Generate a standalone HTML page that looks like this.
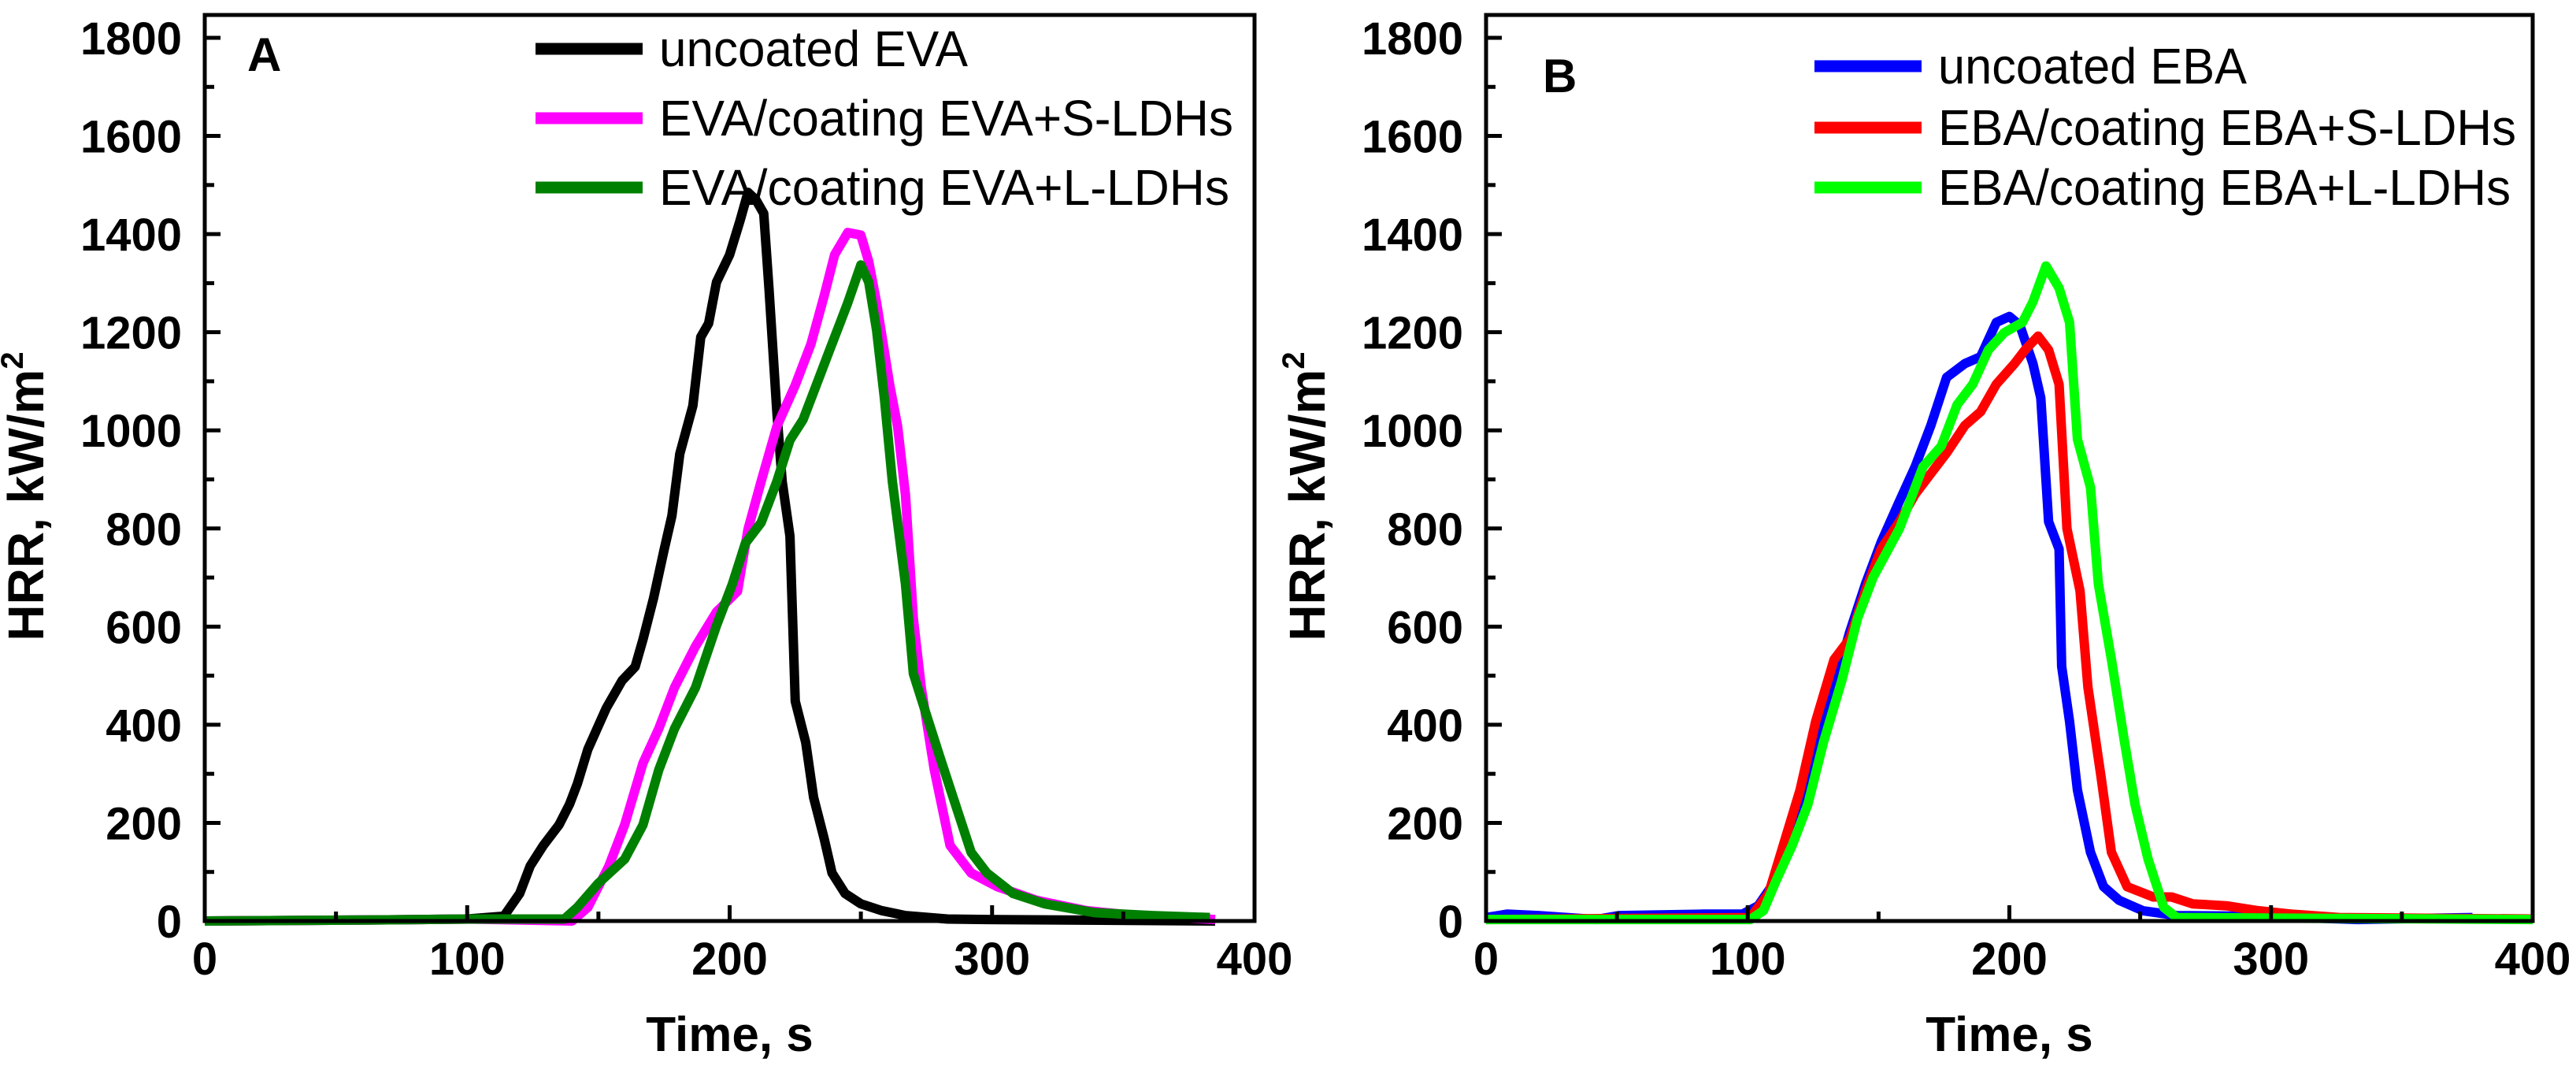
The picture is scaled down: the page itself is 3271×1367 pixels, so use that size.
<!DOCTYPE html>
<html><head><meta charset="utf-8"><style>
html,body{margin:0;padding:0;background:#fff;}
svg{display:block;font-family:"Liberation Sans",Arial,sans-serif;}
</style></head><body>
<svg id="chart" width="3271" height="1367" viewBox="0 0 3271 1367" xmlns="http://www.w3.org/2000/svg"></svg>
<script>
// ---- data ----
const xTicks = [0,100,200,300,400];
const yTicks = [0,200,400,600,800,1000,1200,1400,1600,1800];
const evaT  = [0,60,100,114,120,124,129,135,139,142,146,153,159,164,167,171,175,178,181,186,189,192,195,200,204,207,210,213,215,218,220,223,225,229,232,236,239,244,250,258,267,283,298,385];
const evaV  = [0,2,4,10,56,112,154,196,238,280,350,434,490,518,574,658,756,826,952,1050,1190,1218,1302,1358,1428,1485,1470,1442,1288,1036,896,784,448,364,252,168,98,56,35,21,11,4,3,0];
const evaST = [0,60,100,140,146,154,160,167,173,179,187,195,203,207,212,218,225,231,236,240,245,250,253,256,261,264,267,270,273,278,284,292,302,317,336,355,385];
const evaSV = [0,2,4,0,28,112,196,322,392,476,560,630,672,798,896,1008,1092,1176,1274,1358,1403,1398,1344,1260,1092,1008,868,616,476,308,154,98,70,42,21,11,3];
const evaLT = [0,60,100,137,142,150,160,167,173,179,187,195,201,206,212,218,223,228,233,238,242,245,250,253,256,259,262,267,270,275,280,286,292,298,308,320,339,361,383];
const evaLV = [0,2,4,4,28,77,126,196,308,392,476,602,686,770,812,896,980,1022,1092,1162,1218,1260,1337,1302,1204,1064,896,686,504,420,336,238,140,98,56,35,17,11,7];
const ebaT  = [0,8,20,42,51,83,98,104,109,114,120,126,133,139,145,151,158,164,170,176,183,189,195,200,204,209,212,215,219,220,223,226,231,236,242,251,264,286,298,311,333,377];
const ebaV  = [7,14,11,3,11,14,14,31,70,126,210,337,477,589,687,772,856,926,1010,1108,1136,1150,1220,1232,1214,1136,1066,814,758,519,407,267,140,70,42,21,11,10,17,7,3,7];
const ebaST = [0,101,108,112,120,126,133,139,145,151,158,164,170,176,183,189,195,202,206,211,215,219,222,227,230,235,239,245,255,262,270,283,295,308,326,400];
const ebaSV = [3,7,56,126,267,407,533,575,673,758,814,870,912,954,1010,1038,1094,1136,1164,1192,1164,1094,800,673,477,295,140,70,49,49,35,31,21,14,7,4];
const ebaLT = [0,101,106,111,117,123,129,136,142,148,158,167,174,180,186,192,198,205,209,214,219,223,226,231,234,239,244,248,253,259,264,400];
const ebaLV = [3,3,21,84,154,238,365,491,617,701,800,926,968,1052,1094,1164,1199,1220,1262,1335,1290,1220,982,884,687,533,365,238,126,28,7,3];

const NS = "http://www.w3.org/2000/svg";
const svg = document.getElementById('chart');
function mk(tag, attrs, parent){
  const e = document.createElementNS(NS, tag);
  for (const k in attrs) e.setAttribute(k, attrs[k]);
  (parent||svg).appendChild(e);
  return e;
}
const Y0 = 1169, Y1 = 48, YTOP = 19;
function yScale(v){ return Y0 - (v/1800)*(Y0-Y1); }

function panel(id, left, right, label, labelPos, legendX, legendRows, series){
  const g = mk('g', {});
  
  
  const xs = t => left + (t/400)*(right-left);
  series.forEach(s => {
    const d = s.t.map((t,i) => (i?'L':'M') + xs(t).toFixed(1) + ',' + yScale(s.v[i]).toFixed(1)).join(' ');
    const p = mk('path', {d:d, fill:'none', stroke:s.color, 'stroke-width':12, 'stroke-linejoin':'round', 'stroke-linecap':'butt'}, g);
    
    
  });
  const fr = mk('rect', {x:left, y:YTOP, width:right-left, height:Y0-YTOP, fill:'none', stroke:'#000', 'stroke-width':5}, g);
  
  
  for (let t=0; t<=400; t+=50){
    const major = t % 100 === 0;
    mk('line', {x1:xs(t), x2:xs(t), y1:Y0, y2:Y0-(major?20:12), stroke:'#000','stroke-width':5}, g);
  }
  xTicks.forEach(t => {
    const tx = mk('text', {x:xs(t), y:1237, 'font-size':58, 'font-weight':'bold', 'text-anchor':'middle'}, g);
    tx.textContent = t;
    
    
  });
  for (let v=0; v<=1800; v+=100){
    const major = v % 200 === 0;
    mk('line', {x1:left, x2:left+(major?20:12), y1:yScale(v), y2:yScale(v), stroke:'#000','stroke-width':5}, g);
  }
  yTicks.forEach(v => {
    const tx = mk('text', {x:left-29, y:yScale(v)+21, 'font-size':58, 'font-weight':'bold', 'text-anchor':'end'}, g);
    tx.textContent = v;
    
    
  });
  const xt = mk('text', {x:(left+right)/2, y:1334, 'font-size':62, 'font-weight':'bold', 'text-anchor':'middle'}, g);
  xt.textContent = 'Time, s';
  
  
  const yx = left - 205;
  const yt = mk('text', {x:0, y:0, 'font-size':64, 'font-weight':'bold', 'text-anchor':'middle', transform:'translate('+yx+',630) rotate(-90)'}, g);
  yt.innerHTML = 'HRR, kW/m<tspan dy="-26" font-size="40">2</tspan>';
  
  
  const pl = mk('text', {x:labelPos[0], y:labelPos[1], 'font-size':60, 'font-weight':'bold'}, g);
  pl.textContent = label;
  
  
  series.forEach((s,i) => {
    const row = legendRows[i];
    const ln = mk('line', {x1:legendX, x2:legendX+136, y1:row, y2:row, stroke:s.color, 'stroke-width':15}, g);
    
    
    const tx = mk('text', {x:legendX+157, y:row+22, 'font-size':64, textLength:s.len, lengthAdjust:'spacingAndGlyphs'}, g);
    tx.textContent = s.label;
    
    
  });
}

panel('a', 260, 1593, 'A', [314,90], 680, [62,150,238], [
  {name:'uncoated-eva', label:'uncoated EVA', color:'#000000', t:evaT, v:evaV, len:392},
  {name:'eva-s-ldhs', label:'EVA/coating EVA+S-LDHs', color:'#ff00ff', t:evaST, v:evaSV, len:729},
  {name:'eva-l-ldhs', label:'EVA/coating EVA+L-LDHs', color:'#008000', t:evaLT, v:evaLV, len:724}
]);
panel('b', 1887, 3216, 'B', [1959,117], 2304, [84,162,238], [
  {name:'uncoated-eba', label:'uncoated EBA', color:'#0000ff', t:ebaT, v:ebaV, len:392},
  {name:'eba-s-ldhs', label:'EBA/coating EBA+S-LDHs', color:'#ff0000', t:ebaST, v:ebaSV, len:734},
  {name:'eba-l-ldhs', label:'EBA/coating EBA+L-LDHs', color:'#00ff00', t:ebaLT, v:ebaLV, len:727}
]);
</script>
</body></html>
